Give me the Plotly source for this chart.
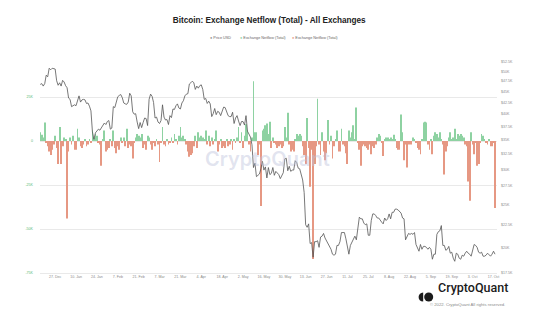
import pandas as pd
import numpy as np
import plotly.graph_objects as go

# ---- data -------------------------------------------------------------
start_date = "2021-12-17"

# BTC price, USD thousands (daily)
price_k = [
    # Dec 17-31
    46.7, 46.9, 46.3, 46.9, 49.0, 48.6, 50.8, 50.4, 50.8, 50.6, 50.6, 47.6, 46.5, 47.1, 46.3,
    # Jan
    47.7, 47.3, 46.4, 45.9, 43.5, 43.2, 41.6, 41.8, 42.0, 41.8, 42.7, 44.0, 42.6, 43.1, 43.2, 43.1,
    42.3, 42.4, 41.7, 40.7, 36.5, 35.1, 36.3, 36.7, 37.0, 36.8, 37.2, 37.7, 38.2, 37.9, 38.5,
    # Feb
    38.7, 37.0, 37.2, 41.6, 41.4, 42.4, 43.8, 44.1, 44.3, 43.6, 42.4, 42.2, 42.1, 42.6, 44.6, 44.0,
    40.5, 40.0, 40.1, 38.4, 37.1, 38.3, 37.3, 38.3, 39.2, 39.1, 37.7, 43.2,
    # Mar
    44.4, 43.9, 42.5, 39.2, 39.4, 38.4, 38.1, 38.7, 42.0, 39.4, 38.8, 38.9, 37.9, 39.7, 39.3, 41.1,
    41.0, 41.8, 42.2, 41.3, 41.1, 42.4, 42.9, 44.0, 44.4, 44.5, 46.8, 47.1, 47.5, 47.1, 45.5,
    # Apr
    46.3, 45.8, 46.4, 46.6, 45.5, 43.2, 43.4, 42.3, 42.8, 42.2, 39.5, 40.1, 41.2, 39.9, 40.6,
    40.4, 39.7, 40.8, 41.5, 41.4, 40.5, 39.7, 39.5, 39.5, 40.4, 38.1, 39.2, 39.7, 38.6, 37.7,
    # May
    38.5, 38.5, 37.8, 39.7, 36.6, 36.0, 35.5, 34.1, 30.3, 31.0, 28.9, 29.1, 29.3, 30.1, 31.3, 29.9,
    30.4, 28.7, 30.3, 29.2, 29.4, 30.3, 29.1, 29.7, 29.5, 29.2, 28.6, 29.0, 29.5, 31.7, 31.8,
    # Jun
    29.8, 30.5, 29.7, 29.9, 29.9, 31.4, 31.1, 30.2, 30.1, 29.1, 28.4, 26.6, 22.5, 22.2, 22.6,
    20.4, 20.5, 19.0, 20.6, 20.6, 20.7, 20.0, 21.1, 21.2, 21.5, 21.0, 20.7, 20.3, 20.1, 19.8,
    # Jul
    19.3, 19.2, 19.3, 20.2, 20.2, 20.6, 21.6, 21.6, 21.6, 20.9, 20.0, 19.3, 20.2, 20.6, 20.8, 21.2,
    20.8, 22.4, 23.4, 23.2, 23.2, 22.7, 22.5, 22.6, 21.3, 21.3, 23.0, 23.8, 23.8, 23.6, 23.3,
    # Aug
    23.3, 23.0, 22.8, 22.6, 23.3, 23.0, 23.2, 23.8, 23.2, 24.0, 24.0, 24.4, 24.4, 24.3, 24.1, 23.9,
    23.3, 23.2, 20.8, 21.1, 21.5, 21.4, 21.5, 21.4, 21.6, 20.3, 20.0, 19.6, 20.3, 19.8, 20.1,
    # Sep
    20.1, 20.0, 19.8, 20.0, 19.8, 18.8, 19.3, 19.3, 21.4, 21.7, 21.8, 22.4, 20.2, 20.2, 19.7,
    19.8, 20.1, 19.4, 19.5, 18.9, 18.6, 19.4, 19.3, 18.9, 18.8, 19.2, 19.1, 19.4, 19.6, 19.4,
    # Oct 1-18
    19.3, 19.1, 19.6, 20.3, 20.2, 20.0, 19.5, 19.4, 19.5, 19.1, 19.1, 19.2, 19.4, 19.2, 19.1,
    19.3, 19.6, 19.3,
]

# Exchange netflow, thousands of BTC (daily)
netflow_k = [
    # Dec 17-31
    5, 3.5, 2, 10.5, -1, -3, -6, -8, -5, -2, 3, -4, -13, 8, -13,
    # Jan
    -3, 2, 1, -44, -6, 2, -2, 3, -5, -5, 7, 2, -3, -4, -2, 1, -3, -2, 1, -1, 6, 2, 4, 3, -1, -2,
    -14, 1, 6, -6, -5,
    # Feb
    -4, 1, -3, 6, -4, -7, -3, -5, 2, -1, 2, -3, 7, -4, -2, -3, -10, -1, 2, 4, 3, 2, 4, -4, -2, -5,
    3, 2,
    # Mar
    -2, -5, -1, -3, 1, -2, -12, -1, 8, -2, -3, 1, -2, -1, 2, -1, 4, 1, -2, 3, 8, 2, 3, 1, -2, -6,
    -9, -8, -7, -3, 3,
    # Apr
    -4, 5, 2, 3, 2, 1, 6, -2, 3, -3, 2, -2, 1, 6, -6, -2, 1, -4, -3, -4, 1, -3, -2, 1, -5, 1, -1,
    2, 8, -1,
    # May
    5, -4, 3, 9.5, 6, -2, -6, 2, 34, 5, 5, -8, -2, -37, 6, 7, 9, 10, 4, 11, -4, 2, -1, -2, -4, -3,
    -2, -4, -3, 8, 2,
    # Jun
    16, -2, -6, -5, -6, 1, 4, 3, 4, 3, -3, -8, -13, 13, -4, -26, -5, -67, -13, -3, 24, -2, -8, 5,
    -6, -11, -7, 12, -2, 3,
    # Jul
    -10, -3, 1, 6, -6, -6, 7, -2, -3, -7, -13, 6, 2, 5, 9, 1, 19, -1, -5, -14, -3, -2, -3, -4, -5,
    -2, -7.5, -3, -4, -2, 2,
    # Aug
    4, 3, -1, -8.5, 1, 2, 2, 1, 2, 1, 3.5, 1, -4, -5, -5, 15, 5, -11, -2, -15, -2, -2, -2, 2, 1,
    -1, -4, -5, -7.5, 1, 10.5,
    # Sep
    11, 10.5, -2, -5, 1, -7.5, 3, 5, 4, 2, 5, 1, -2, -19, -6, -3, 2, 5, 1, 2, 7, 1, 4, 3, 4, 3, 2,
    -2, -3, -23,
    # Oct 1-18
    -34, 5, -2, -7.5, -1, -14, -13, -1, 4, 3, 1, -1, -2, 1, -3, -3, -1, -38,
]

left_tick_vals = [-75000, -50000, -25000, 0, 25000, 50000]
left_tick_text = ["-75K", "-50K", "-25K", "0", "25K", ""]
right_tick_vals = [17500, 20000, 22500, 25000, 27500, 30000, 32500, 35000, 37500,
                   40000, 42500, 45000, 47500, 50000, 52500]
right_tick_text = ["$17.5K", "$20K", "$22.5K", "$25K", "$27.5K", "$30K", "$32.5K", "$35K",
                   "$37.5K", "$40K", "$42.5K", "$45K", "$47.5K", "$50K", "$52.5K"]

# ---- styling -----------------------------------------------------------
W, H = 545, 329
ML, MR, MT, MB = 40, 48, 53, 56
PW, PH = W - ML - MR, H - MT - MB

GREEN = "#8ed2a2"
RED = "#e69883"
LINE = "#555555"
GRID = "#e9e9e9"
FONT = "Liberation Sans, Arial, sans-serif"


def px(x):
    return (x - ML) / PW


def py(y):
    return (H - MB - y) / PH


dates = pd.date_range(start_date, periods=len(netflow_k), freq="D")
flow = np.array(netflow_k) * 1000.0
price = np.array(price_k) * 1000.0
pos = np.where(flow > 0, flow, np.nan)
neg = np.where(flow < 0, flow, np.nan)

fig = go.Figure()
fig.add_trace(go.Bar(x=dates, y=pos, name="Exchange Netflow (Total)",
                     marker=dict(color=GREEN, line=dict(width=0)), yaxis="y"))
fig.add_trace(go.Bar(x=dates, y=neg, name="Exchange Netflow (Total)",
                     marker=dict(color=RED, line=dict(width=0)), yaxis="y"))
fig.add_trace(go.Scatter(x=dates, y=price, name="Price USD", mode="lines",
                         line=dict(color=LINE, width=0.8), yaxis="y2"))

annotations = [
    # watermark
    dict(x=0.498, y=py(159), xref="paper", yref="paper", text="CryptoQuant",
         showarrow=False, font=dict(family="Inter, sans-serif", size=20, weight=600,
                                    color="rgba(190,195,220,0.45)")),
    # legend
    dict(x=px(207.5), y=py(34.3), xref="paper", yref="paper", xanchor="left",
         text="<span style='color:#8c8c8c'>●</span> Price USD", showarrow=False,
         font=dict(family=FONT, size=3.8, color="#666")),
    dict(x=px(237.5), y=py(34.3), xref="paper", yref="paper", xanchor="left",
         text=f"<span style='color:{GREEN}'>●</span> Exchange Netflow (Total)", showarrow=False,
         font=dict(family=FONT, size=3.8, color="#666")),
    dict(x=px(290), y=py(34.3), xref="paper", yref="paper", xanchor="left",
         text=f"<span style='color:{RED}'>●</span> Exchange Netflow (Total)", showarrow=False,
         font=dict(family=FONT, size=3.8, color="#666")),
    # brand
    dict(x=px(435.5), y=py(297.3), xref="paper", yref="paper", xanchor="left",
         text="CryptoQuant", showarrow=False,
         font=dict(family="Roboto, sans-serif", size=12.5, weight=500, color="#1b1b1b")),
    dict(x=px(467), y=py(308.5), xref="paper", yref="paper", xanchor="center",
         text="© 2022. CryptoQuant All rights reserved.", showarrow=False,
         font=dict(family=FONT, size=4.2, color="#8a8a8a")),
]

# brand mark: half disc + disc
cx, cy, r = 423.2, 297.0, 4.6
half = (f"M {px(cx)},{py(cy - r)} C {px(cx - 1.333 * r)},{py(cy - r)} "
        f"{px(cx - 1.333 * r)},{py(cy + r)} {px(cx)},{py(cy + r)} Z")
shapes = [
    dict(type="path", path=half, xref="paper", yref="paper",
         fillcolor="#1b1b1b", line=dict(width=0)),
    dict(type="circle", xref="paper", yref="paper",
         x0=px(424.2), x1=px(433.2), y0=py(301.6), y1=py(292.4),
         fillcolor="#1b1b1b", line=dict(width=0)),
]

fig.update_layout(
    width=W, height=H, autosize=False,
    margin=dict(l=ML, r=MR, t=MT, b=MB, pad=0),
    paper_bgcolor="white", plot_bgcolor="white",
    showlegend=False,
    barmode="relative", bargap=0.45,
    title=dict(text="<b>Bitcoin: Exchange Netflow (Total) - All Exchanges</b>",
               x=0.494, xanchor="center", y=1 - 20 / H, yanchor="middle",
               font=dict(family=FONT, size=8.2, color="#222")),
    font=dict(family=FONT),
    xaxis=dict(
        type="date",
        range=["2021-12-16 20:00", "2022-10-19 08:00"],
        tick0="2021-12-27", dtick=14 * 86400000, tickformat="%-d. %b",
        showgrid=False, zeroline=False, showline=True, linecolor=GRID, linewidth=1,
        ticks="", tickfont=dict(size=3.6, color="#8a8a8a"),
    ),
    yaxis=dict(
        range=[-75000, 50000], tickvals=left_tick_vals, ticktext=left_tick_text,
        showgrid=True, gridcolor=GRID, gridwidth=1,
        zeroline=True, zerolinecolor=GRID, zerolinewidth=1,
        ticks="", tickfont=dict(size=3.6, color="#5cb878"), ticklabelstandoff=6,
    ),
    yaxis2=dict(
        type="log", overlaying="y", side="right",
        range=[np.log10(17500), np.log10(55000)],
        tickvals=right_tick_vals, ticktext=right_tick_text,
        showgrid=False, zeroline=False, ticks="",
        tickfont=dict(size=3.6, color="#8a8a8a"), ticklabelstandoff=3,
    ),
    annotations=annotations,
    shapes=shapes,
)

fig.write_html("out.html", config={"displayModeBar": False})
